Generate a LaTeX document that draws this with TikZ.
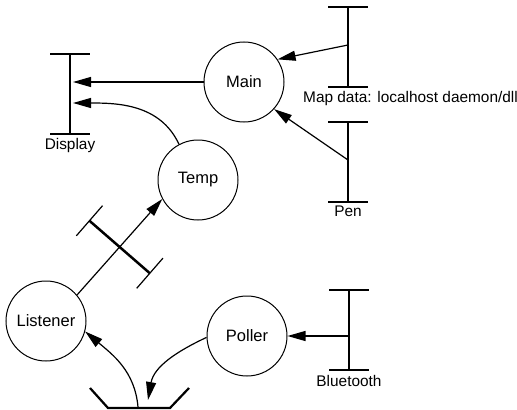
\documentclass[tikz,border=0pt]{standalone}
\usepackage{fontspec}
\setmainfont{Liberation Sans}
\usetikzlibrary{calc,arrows.meta}
\def\chanbar(#1)(#2){\begin{scope}[shift={(#1)},rotate=#2]
	\draw[line width=2.5bp] (0,-40) -- (0,40);
	\draw[line width=1.2bp] (-20,-40) -- (20,-40) (-20,40) -- (20,40);
\end{scope}}

\begin{document}
\begin{tikzpicture}[x=1bp,y=1bp,
		proc/.style={draw,circle,line width=1bp,minimum size=80bp,inner sep=0pt,font=\fontsize{16.5bp}{19bp}\selectfont},
		chanlbl/.style={inner sep=0pt,font=\fontsize{15.4bp}{18bp}\selectfont},
		flow/.style={line width=1.2bp,-{Triangle[length=18bp,width=10bp]}}]
				\useasboundingbox (0,0) rectangle (517,409);
				
				\node[proc] (Main) at (244,327) {Main};
				\node[proc] (Temp) at (198,229) {Temp};
				\node[proc] (Listener) at (46,88) {Listener};
				\node[proc] (Poller) at (247,73) {Poller};
				
				\coordinate (display) at (70,315);
				\coordinate (mapdata) at (348,362);
				\coordinate (pen) at (348,247);
				\coordinate (bluetooth) at (349,79);
				\coordinate (sink) at (139,1);
				\chanbar(display)(0)
				\chanbar(mapdata)(0)
				\chanbar(pen)(0)
				\chanbar(bluetooth)(0)
				\draw[line width=2.2bp] ($(sink)+(-49,20)$) -- ($(sink)+(-31,0)$) -- ($(sink)+(31,0)$) -- ($(sink)+(50,20)$);
				
				\node[chanlbl] (displaylbl) at (70,263) {Display};
				\node[chanlbl,anchor=west] (mapdatalbl) at (303,310) {Map data: localhost daemon/dll};
				\node[chanlbl] (penlbl) at (348,198) {Pen};
				\node[chanlbl] (bluetoothlbl) at (349,28) {Bluetooth};
				
				\coordinate (disp1) at (73,327);
				\coordinate (disp2) at (73,306);
				\coordinate (map1) at (348,364);
				\coordinate (pen1) at (348,249);
				\coordinate (bt1) at (349,73);
				\coordinate (sinkout) at (138,2);
				\coordinate (sinkin) at (148,9);
				
				\draw[flow] (Main.west) -- (disp1);
				\draw[flow] (Temp.118) to[out=115,in=0] (disp2);
				\draw[flow] (map1) -- (Main.34);
				\draw[flow] (pen1) -- (Main.-42);
				\draw[flow] (bt1) -- (Poller.east);
				\draw[flow] (Listener.40) -- (Temp.208);
				\coordinate (relay) at ($(Listener.40)!0.5!(Temp.208)$);
				\chanbar(relay)(49)
				\draw[flow] (sinkout) to[out=95,in=-40] (Listener.-15);
				\draw[flow] (Poller.182) to[out=205,in=80] (sinkin);
			\end{tikzpicture}
\end{document}
